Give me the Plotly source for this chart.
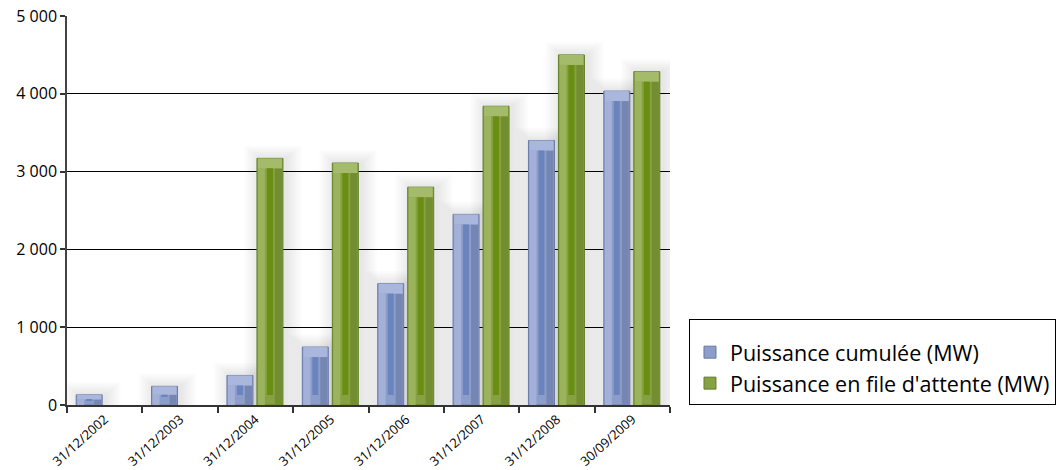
import plotly.graph_objects as go

# Dates of the snapshots (x categories)
dates = ["31/12/2002", "31/12/2003", "31/12/2004", "31/12/2005",
         "31/12/2006", "31/12/2007", "31/12/2008", "30/09/2009"]

# Installed capacity (MW)
cumulee = [130, 240, 380, 745, 1560, 2450, 3400, 4035]
# Capacity in the connection queue (MW); none before 2004
attente = [None, None, 3170, 3110, 2800, 3840, 4500, 4285]

y_ticks = [0, 1000, 2000, 3000, 4000, 5000]

# Geometry helpers: plot area is 603 px wide for 8 categories, 389 px for 5000 MW
CAT_PX = 603 / 8
UNIT_PER_PX = 5000 / 389
BAR_PX = 26
BEVEL = 10 * UNIT_PER_PX


def px(v):
    return v / CAT_PX


def halo(fig, values, left_px):
    """Soft grey glow behind the bars, built from many faint wider bars."""
    for grow in range(16, 1, -2):
        fig.add_trace(go.Bar(
            x=dates, hoverinfo="skip", showlegend=False,
            y=[None if v is None else v + grow * 0.8 * UNIT_PER_PX for v in values],
            base=0, offset=px(left_px - grow + 3), width=px(BAR_PX + 2 * grow),
            marker=dict(color="rgba(0,0,0,0.012)", line=dict(width=0))))


def bevelled_bars(fig, values, name, left_px, colors):
    """Draw one series as bevelled bars built from stacked overlay bar traces."""
    common = dict(x=dates, hoverinfo="skip")
    insets = [None if v is None else min(BEVEL, v * 0.45) for v in values]
    tops = [None if v is None else v - i for v, i in zip(values, insets)]
    # main body
    fig.add_trace(go.Bar(
        name=name, y=values, base=0, offset=px(left_px), width=px(BAR_PX),
        marker=dict(color=colors["mid"], line=dict(color=colors["edge"], width=1)),
        showlegend=True, legendgroup=name, **common))
    # light left face
    fig.add_trace(go.Bar(
        y=tops, base=0, offset=px(left_px + 1), width=px(7),
        marker=dict(color=colors["light"], line=dict(width=0)),
        showlegend=False, legendgroup=name, **common))
    # dark right face
    fig.add_trace(go.Bar(
        y=tops, base=0, offset=px(left_px + 18), width=px(7),
        marker=dict(color=colors["dark"], line=dict(width=0)),
        showlegend=False, legendgroup=name, **common))
    # top bevel
    fig.add_trace(go.Bar(
        y=insets, base=tops,
        offset=px(left_px + 1), width=px(BAR_PX - 2),
        marker=dict(color=colors["top"], line=dict(width=0)),
        showlegend=False, legendgroup=name, **common))
    # inner flat stripe
    fig.add_trace(go.Bar(
        y=[None if v is None else max(v - 2 * i, 1) for v, i in zip(values, insets)],
        base=insets, offset=px(left_px + 10), width=px(6),
        marker=dict(color=colors["stripe"], line=dict(width=0)),
        showlegend=False, legendgroup=name, **common))


fig = go.Figure()

halo(fig, cumulee, -28.5)
halo(fig, attente, 1.5)

bevelled_bars(fig, cumulee, "Puissance cumulée (MW)", -28.5, dict(
    mid="#8d9dca", light="#a3b1d8", dark="#7686b2", top="#aab7dc",
    stripe="#6a85be", edge="#6a7aa6"))
bevelled_bars(fig, attente, "Puissance en file d'attente (MW)", 1.5, dict(
    mid="#86a043", light="#9ab35c", dark="#728e30", top="#a4bb6c",
    stripe="#6a8e12", edge="#62802a"))

fig.update_layout(
    width=1060, height=470,
    margin=dict(l=67, r=390, t=16, b=65, autoexpand=False),
    paper_bgcolor="white", plot_bgcolor="rgba(0,0,0,0)",
    barmode="overlay",
    separators=", ",
    font=dict(family="Open Sans", color="black"),
    legend=dict(
        x=1.0315, xanchor="left", y=0, yanchor="bottom",
        bordercolor="black", borderwidth=1, bgcolor="white",
        font=dict(size=21.5, family="Open Sans", color="black"),
        title=dict(text=" ", font=dict(size=9)),
        traceorder="normal", itemwidth=30, tracegroupgap=0,
    ),
)

fig.update_xaxes(
    type="category", categoryorder="array", categoryarray=dates,
    range=[-0.5, 7.5], tickson="boundaries", automargin=False,
    ticks="outside", ticklen=6, tickcolor="#333", tickwidth=1.5,
    showline=True, linecolor="#333", linewidth=1.5,
    tickangle=-42, tickfont=dict(size=13, color="black"),
    showgrid=False,
)
fig.update_yaxes(
    range=[0, 5000], tickvals=y_ticks, tickformat=",d", automargin=False,
    ticks="outside", ticklen=5, tickcolor="#333", tickwidth=1.5,
    showline=True, linecolor="#444", linewidth=1.5,
    showgrid=True, gridcolor="black", gridwidth=1, layer="below traces",
    tickfont=dict(size=16, color="black"), zeroline=False,
)

fig.write_html("out.html")
